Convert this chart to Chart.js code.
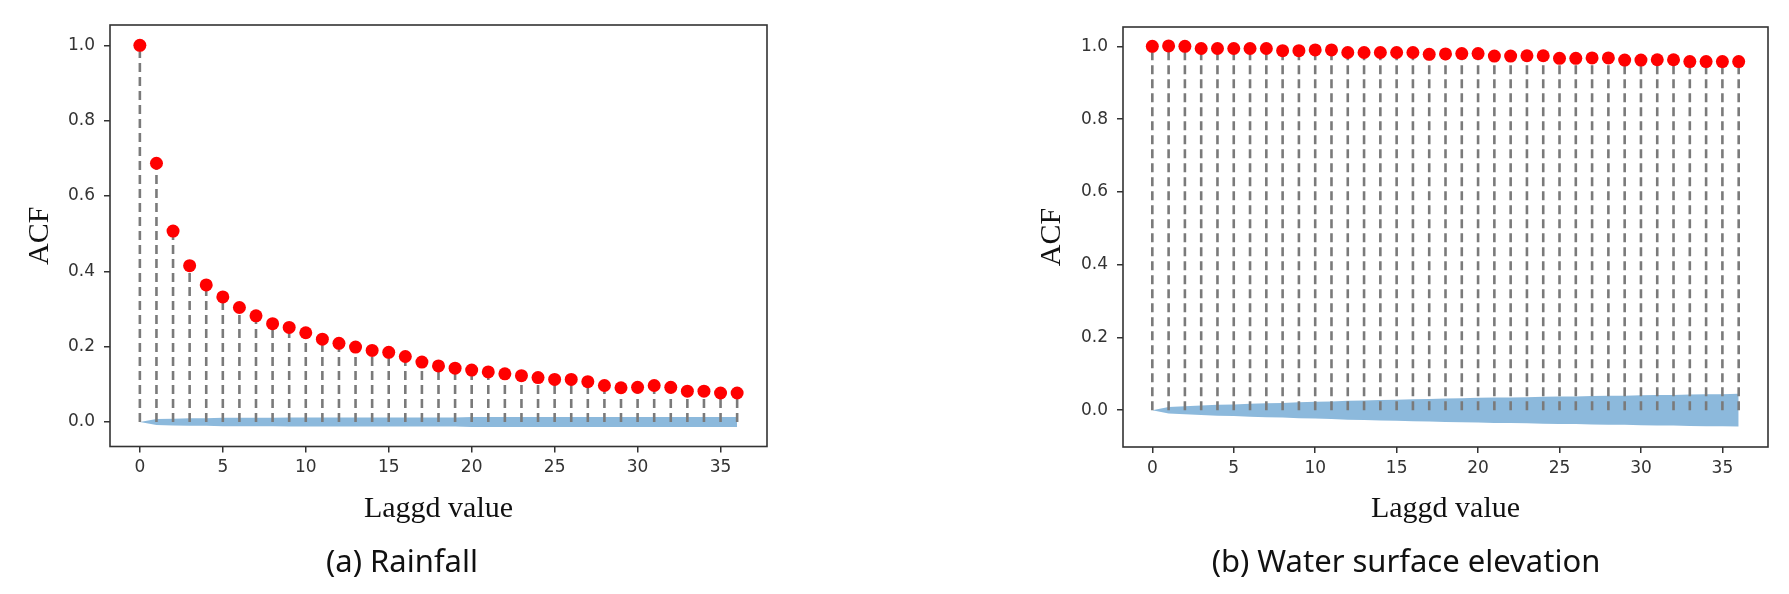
<!DOCTYPE html>
<html>
<head>
<meta charset="utf-8">
<script src="https://cdn.jsdelivr.net/npm/chart.js@4"></script>
<style>
  html, body { margin: 0; padding: 0; background: #fff; }
  #wrap { position: relative; width: 1789px; height: 594px; overflow: hidden; }
  canvas { position: absolute; top: 0; }
  .caption {
    position: absolute; top: 541px; transform: translateX(-50%);
    font-family: "Noto Sans", sans-serif; font-size: 31px; line-height: 38px;
    color: #111; white-space: nowrap;
  }
</style>
</head>
<body>
<div id="wrap">
  <canvas id="acf-rain" width="800" height="594" style="left:0"></canvas>
  <canvas id="acf-wse" width="799" height="594" style="left:990px"></canvas>
  <div class="caption" style="left:402px">(a) Rainfall</div>
  <div class="caption" style="left:1406px">(b) Water surface elevation</div>
</div>
<script>
// ── Data ──────────────────────────────────────────────────────────────────────

const lags = [0,1,2,3,4,5,6,7,8,9,10,11,12,13,14,15,16,17,18,19,20,21,22,23,24,25,26,27,28,29,30,31,32,33,34,35,36];

const rainAcf = [1.000, 0.687, 0.507, 0.415, 0.364, 0.332, 0.304, 0.282, 0.261, 0.251,
                 0.237, 0.220, 0.209, 0.199, 0.190, 0.185, 0.174, 0.159, 0.149, 0.143,
                 0.138, 0.133, 0.128, 0.123, 0.118, 0.113, 0.113, 0.107, 0.097, 0.091,
                 0.092, 0.097, 0.092, 0.082, 0.082, 0.077, 0.077];
const rainBandHi = [0.000, 0.008, 0.009, 0.010, 0.010, 0.011, 0.011, 0.011, 0.011, 0.012,
                    0.012, 0.012, 0.012, 0.012, 0.012, 0.012, 0.012, 0.012, 0.012, 0.012,
                    0.013, 0.013, 0.013, 0.013, 0.013, 0.013, 0.013, 0.013, 0.013, 0.013,
                    0.013, 0.013, 0.013, 0.013, 0.013, 0.013, 0.013];
const rainBandLo = [0.000, -0.008, -0.009, -0.010, -0.010, -0.011, -0.011, -0.011, -0.011, -0.012,
                    -0.012, -0.012, -0.012, -0.012, -0.012, -0.012, -0.012, -0.012, -0.012, -0.012,
                    -0.013, -0.013, -0.013, -0.013, -0.013, -0.013, -0.013, -0.013, -0.013, -0.013,
                    -0.013, -0.013, -0.013, -0.013, -0.013, -0.013, -0.013];

const wseAcf = [1.000, 1.001, 1.000, 0.994, 0.994, 0.994, 0.994, 0.994, 0.988, 0.988,
                0.990, 0.990, 0.983, 0.983, 0.983, 0.983, 0.983, 0.978, 0.979, 0.980,
                0.980, 0.973, 0.973, 0.974, 0.974, 0.967, 0.967, 0.968, 0.968, 0.962,
                0.962, 0.963, 0.963, 0.958, 0.958, 0.958, 0.958];
const wseBandHi = [0.000, 0.009, 0.011, 0.013, 0.015, 0.016, 0.018, 0.019, 0.020, 0.022,
                   0.023, 0.024, 0.026, 0.027, 0.028, 0.029, 0.030, 0.031, 0.032, 0.033,
                   0.034, 0.035, 0.035, 0.036, 0.037, 0.038, 0.038, 0.039, 0.040, 0.040,
                   0.041, 0.042, 0.042, 0.043, 0.044, 0.044, 0.045];
const wseBandLo = [0.000, -0.009, -0.011, -0.013, -0.015, -0.016, -0.018, -0.019, -0.020, -0.022,
                   -0.023, -0.024, -0.026, -0.027, -0.028, -0.029, -0.030, -0.031, -0.032, -0.033,
                   -0.034, -0.035, -0.035, -0.036, -0.037, -0.038, -0.038, -0.039, -0.040, -0.040,
                   -0.041, -0.042, -0.042, -0.043, -0.044, -0.044, -0.045];

const xTicks = [0, 5, 10, 15, 20, 25, 30, 35];
const yTicks = [0.0, 0.2, 0.4, 0.6, 0.8, 1.0];
const xTitle = 'Laggd value';
const yTitle = 'ACF';

// ── Charts ────────────────────────────────────────────────────────────────────

const RED = '#ff0000';
const STEM = '#7a7a7a';
const BAND = '#8cb9dc';
const AXIS = '#333333';

const frame = {
  id: 'frame',
  afterDraw(chart) {
    const { ctx, chartArea: a } = chart;
    ctx.save();
    ctx.strokeStyle = AXIS;
    ctx.lineWidth = 1.6;
    ctx.strokeRect(a.left, a.top, a.right - a.left, a.bottom - a.top);
    ctx.restore();
  }
};

function stemPoints(values) {
  const pts = [];
  lags.forEach((l, i) => {
    pts.push({ x: l, y: 0 }, { x: l, y: values[i] }, { x: l, y: null });
  });
  return pts;
}

function acfChart(id, acf, hi, lo, o) {
  const tickFont = { family: 'DejaVu Sans', size: 17 };
  const titleFont = { family: 'Liberation Serif', size: 30 };
  return new Chart(document.getElementById(id), {
    type: 'scatter',
    data: {
      datasets: [
        {
          data: lags.map((l, i) => ({ x: l, y: acf[i] })),
          pointRadius: 6.5,
          pointBackgroundColor: RED,
          pointBorderWidth: 0,
        },
        {
          data: stemPoints(acf),
          showLine: true,
          spanGaps: false,
          borderColor: STEM,
          borderWidth: 2.6,
          borderDash: [9, 5],
          pointRadius: 0,
        },
        {
          data: lags.map((l, i) => ({ x: l, y: hi[i] })),
          showLine: true,
          borderWidth: 0,
          pointRadius: 0,
          backgroundColor: BAND,
          fill: '+1',
        },
        {
          data: lags.map((l, i) => ({ x: l, y: lo[i] })),
          showLine: true,
          borderWidth: 0,
          pointRadius: 0,
        },
      ]
    },
    options: {
      responsive: false,
      animation: false,
      devicePixelRatio: 1,
      layout: { padding: { top: o.top, right: o.right, left: 0, bottom: 0 } },
      plugins: { legend: { display: false }, tooltip: { enabled: false } },
      scales: {
        x: {
          type: 'linear',
          min: -1.8, max: 37.8,
          afterBuildTicks: s => { s.ticks = xTicks.map(v => ({ value: v })); },
          afterFit: s => { s.height = o.xAxisH; },
          border: { display: false },
          grid: { drawOnChartArea: false, drawTicks: true, tickLength: 6, color: AXIS, lineWidth: 1.5 },
          ticks: { font: tickFont, color: '#333', padding: 5, maxRotation: 0, callback: v => String(v) },
          title: { display: true, text: xTitle, font: titleFont, color: '#111', padding: { top: 0, bottom: 67 } },
        },
        y: {
          min: o.yMin, max: o.yMax,
          afterBuildTicks: s => { s.ticks = yTicks.map(v => ({ value: v })); },
          afterFit: s => { s.width = o.yAxisW; },
          border: { display: false },
          grid: { drawOnChartArea: false, drawTicks: true, tickLength: 6, color: AXIS, lineWidth: 1.5 },
          ticks: { font: tickFont, color: '#333', padding: 9, callback: v => v.toFixed(1) },
          title: { display: true, text: yTitle, font: titleFont, color: '#111', padding: { top: o.yTitlePad, bottom: 0 } },
        }
      }
    },
    plugins: [frame]
  });
}

acfChart('acf-rain', rainAcf, rainBandHi, rainBandLo,
  { top: 25, right: 33, xAxisH: 147.5, yAxisW: 110, yTitlePad: 22, yMin: -0.065, yMax: 1.054 });

acfChart('acf-wse', wseAcf, wseBandHi, wseBandLo,
  { top: 27, right: 21, xAxisH: 147, yAxisW: 133, yTitlePad: 44, yMin: -0.101, yMax: 1.053 });
</script>
</body>
</html>
